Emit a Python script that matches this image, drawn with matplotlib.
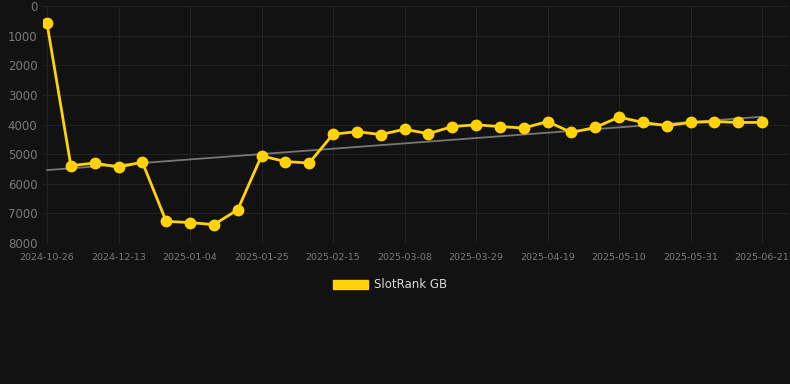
import numpy as np
import matplotlib.pyplot as plt
from matplotlib.patches import Patch

# 데이터
dates = ['2024-10-26', '2024-11-09', '2024-11-23', '2024-12-13', '2024-12-20',
         '2024-12-28', '2025-01-04', '2025-01-11', '2025-01-18', '2025-01-25',
         '2025-02-01', '2025-02-08', '2025-02-15', '2025-02-22', '2025-03-01',
         '2025-03-08', '2025-03-15', '2025-03-22', '2025-03-29', '2025-04-05',
         '2025-04-12', '2025-04-19', '2025-04-26', '2025-05-03', '2025-05-10',
         '2025-05-17', '2025-05-24', '2025-05-31', '2025-06-07', '2025-06-14',
         '2025-06-21']
rank = [590, 5390, 5300, 5440, 5270, 7270, 7310, 7380, 6880, 5060,
        5250, 5300, 4330, 4240, 4340, 4160, 4310, 4070, 4010, 4070,
        4120, 3900, 4270, 4100, 3750, 3930, 4040, 3930, 3900, 3930,
        3930]
series_name = 'SlotRank GB'

bg = '#121212'
gold = '#FFD20A'

x = np.arange(len(rank))
coef = np.polyfit(x, rank, 1)
trend = np.polyval(coef, x)

fig = plt.figure(figsize=(7.9, 3.84), dpi=100, facecolor=bg)
ax = fig.add_axes([43 / 790, 1 - 243 / 384, 745 / 790, 237 / 384])
ax.set_facecolor(bg)

ax.plot(x, trend, color='#777777', lw=1.3, zorder=2)
ax.plot(x, rank, color=gold, lw=2.0, marker='o', ms=7.5, zorder=3)

ax.set_ylim(8000, 0)
ax.set_yticks(range(0, 8001, 1000))
ax.set_xlim(-0.168, 31.09)
ax.set_xticks(x[::3])
ax.set_xticklabels(dates[::3])

ax.grid(True, color='#232323', lw=0.8)
ax.set_axisbelow(True)
for s in ax.spines.values():
    s.set_visible(False)
ax.tick_params(axis='y', colors='#7a7a7a', labelsize=8.5, length=0, pad=4)
ax.tick_params(axis='x', colors='#7a7a7a', labelsize=6.8, length=0, pad=7)

leg = fig.legend(handles=[Patch(facecolor=gold, edgecolor=gold)], labels=[series_name],
                 loc='center', bbox_to_anchor=(390 / 790, 1 - 285 / 384),
                 frameon=False, handlelength=2.9, handleheight=0.9,
                 fontsize=8.5, labelcolor='#d8d8d8', handletextpad=0.5)

fig.savefig('out.png', dpi=100, facecolor=bg)
